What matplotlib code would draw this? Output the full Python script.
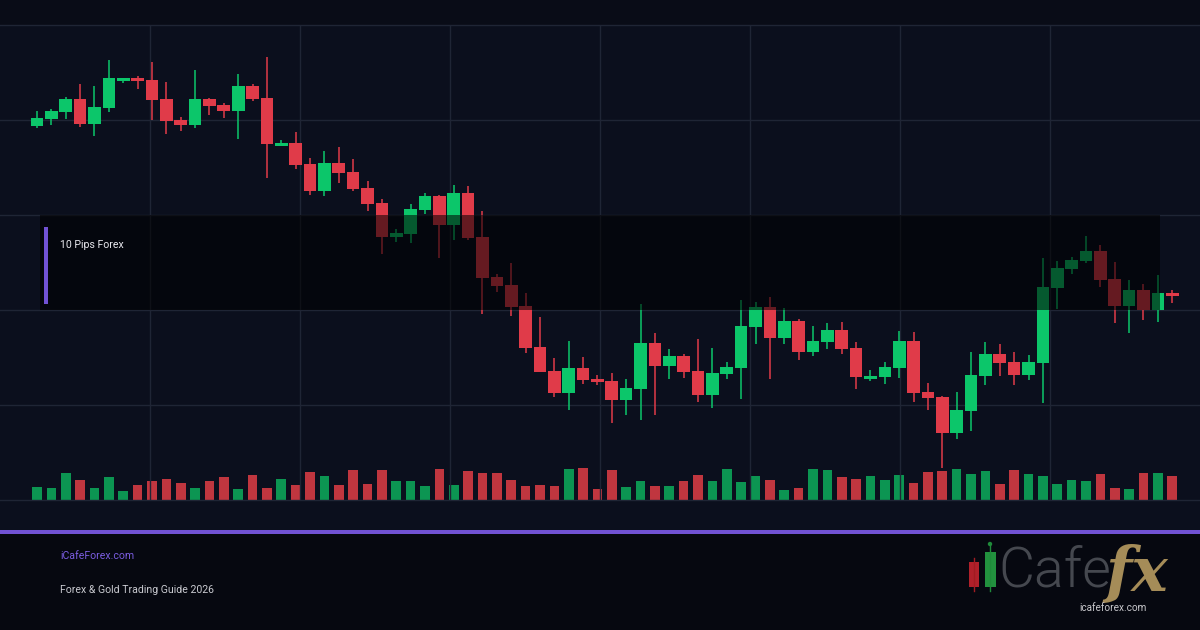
import matplotlib
matplotlib.use("Agg")
import matplotlib.pyplot as plt
from matplotlib.patches import Rectangle, Circle
import numpy as np

# ---------------- data (price units, arbitrary scale) ----------------
opens = [374.3, 381, 388.3, 401, 376.3, 392.3, 419.3, 422, 420, 401,
         380, 375.3, 401, 395, 389.3, 414, 402, 354.3, 357.3, 336.3,
         309.3, 337.3, 328.3, 312.3, 297.3, 263.3, 266.3, 290.3, 304.3, 275.3,
         307.3, 263.3, 223.3, 215, 194, 153.3, 129, 107.3, 132, 121,
         119, 100, 111, 157.3, 134, 144, 129, 105.3, 126, 132,
         173.3, 193, 162.3, 179, 148.3, 158.3, 170, 152, 121, 123,
         132, 159, 108, 103.3, 67.3, 89.3, 124.3, 146, 138, 125.3,
         137.3, 212.3, 231.3, 239.3, 249, 221, 194.3, 210, 190.3, 207]
highs = [389, 391, 403.3, 416.3, 414, 440, 422.5, 424, 438, 418,
         382.7, 429.7, 402.3, 397.3, 426, 416, 443.3, 360, 368.3, 341.7,
         348.7, 353, 340.7, 319, 301, 271.3, 296, 307.3, 305.3, 315,
         314, 289, 226.3, 237, 207, 183.3, 142, 159, 143.3, 125,
         127.3, 121, 196, 167.3, 151.3, 146.3, 161, 152, 138, 200,
         198, 203, 192, 181, 174, 177, 178, 158, 130, 138,
         169, 168, 117, 104.5, 108, 148, 158, 156, 148, 145,
         242, 239, 243, 264, 255, 238, 220, 216, 225, 210]
lows = [372.3, 375.3, 381, 373.3, 364.3, 388.3, 416.7, 411.3, 380, 366.3,
        369.3, 372.3, 385.3, 382.3, 361.3, 399.3, 321.7, 354, 331.5, 305.3,
        304.3, 317.3, 309.3, 289.3, 245.7, 258.3, 256.7, 286.3, 241.7, 260.3,
        260.5, 185.7, 208.3, 184.3, 146.7, 127.7, 103.3, 90, 116, 115.3,
        77, 85, 80, 85, 121, 122, 98.3, 92.3, 121.3, 101.3,
        156, 121.3, 156.3, 140.3, 144.3, 151.3, 146.3, 111.3, 119.3, 116.3,
        122.3, 98, 90.3, 32.3, 61.3, 69.3, 115.3, 124.3, 115.3, 120.3,
        97.3, 191.3, 226.3, 237.3, 213.3, 177.3, 167.3, 180.3, 178.3, 197.3]
closes = [382, 389, 401, 376.3, 393, 422, 422, 419.3, 400.3, 379.3,
          375.3, 401, 394.3, 389.3, 414, 401.3, 356.3, 357.3, 335.3, 309.3,
          337.3, 327.3, 311.3, 296.3, 263.3, 266.7, 291.3, 304.3, 275.3, 307.3,
          262.3, 222.3, 214.3, 193.3, 152.3, 128.3, 107.3, 132, 120, 118,
          100, 112, 157.3, 134, 144, 128, 105, 127, 133, 174,
          193, 162.3, 179, 148.3, 159, 170, 151, 123, 124, 133,
          159, 107, 102.3, 67.3, 90, 125, 146, 137.3, 125.3, 138,
          213, 232, 240, 249, 220.3, 194.3, 210, 190.3, 207, 204.3]
volumes = [13, 12, 27, 20, 12, 23, 9, 15, 19, 21,
           17, 12, 19, 23, 11, 25, 12, 21, 15, 28,
           24, 15, 30, 16, 30, 19, 19, 14, 31, 15,
           29, 27, 27, 20, 14, 15, 14, 31, 32, 11,
           30, 13, 19, 14, 14, 19, 25, 19, 31, 18,
           24, 20, 10, 12, 31, 30, 23, 21, 24, 20,
           25, 17, 28, 29, 31, 26, 29, 16, 30, 26,
           24, 16, 20, 19, 26, 12, 11, 27, 27, 24]
price_grid = [0, 95, 190, 285, 380, 475]

title_text = "10 Pips Forex"
footer_site = "iCafeForex.com"
footer_title = "Forex & Gold Trading Guide 2026"
logo_url = "icafeforex.com"

# ---------------- style ----------------
BG = "#0b0f1d"
TOPBG = "#090c17"
FOOT = "#060810"
GRID = "#1f2535"
GREEN = "#0cc66a"
RED = "#e03b49"
VGREEN = "#0c9552"
VRED = "#c0363f"
PURPLE = "#7152d4"
FONT = "Roboto"

n = len(opens)
x = np.arange(n)
up = np.array(closes) >= np.array(opens)

fig = plt.figure(figsize=(12, 6.3), dpi=100, facecolor=BG)

# background / footer layer (pixel coords)
bg = fig.add_axes([0, 0, 1, 1], zorder=0)
bg.set_xlim(0, 1200); bg.set_ylim(630, 0); bg.axis("off")
bg.add_patch(Rectangle((0, 0), 1200, 25, fc=TOPBG, ec="none"))
bg.add_patch(Rectangle((0, 532), 1200, 98, fc=FOOT, ec="none"))

# axis geometry
x0 = -37 / 14.37
x1 = x0 + 1200 / 14.37
pos = [0, 130 / 630, 1, 475 / 630]

# volume axes
axv = fig.add_axes(pos, zorder=1)
axv.patch.set_alpha(0)
axv.set_xlim(x0, x1); axv.set_ylim(0, 475); axv.axis("off")
axv.bar(x, volumes, width=0.67, bottom=0,
        color=[VGREEN if u else VRED for u in up], linewidth=0)

# price axes
ax = fig.add_axes(pos, zorder=2)
ax.patch.set_alpha(0)
ax.set_xlim(x0, x1); ax.set_ylim(0, 475); ax.axis("off")
for p in price_grid:
    ax.axhline(p, color=GRID, lw=1.0, zorder=0, clip_on=False)
for px in range(150, 1200, 150):
    ax.axvline(x0 + px / 14.37, color=GRID, lw=1.0, zorder=0)

cols = [GREEN if u else RED for u in up]
ax.vlines(x, lows, highs, colors=cols, lw=1.1, zorder=2)
o = np.array(opens); c = np.array(closes)
bottoms = np.minimum(o, c)
heights = np.maximum(np.abs(c - o), 2.5)
ax.bar(x, heights, bottom=bottoms, width=0.88, color=cols, linewidth=0, zorder=3)

# top overlay layer
top = fig.add_axes([0, 0, 1, 1], zorder=3)
top.patch.set_alpha(0)
top.set_xlim(0, 1200); top.set_ylim(630, 0); top.axis("off")
top.add_patch(Rectangle((40, 215), 1120, 95, fc="#000000", alpha=0.55, ec="none"))
top.add_patch(Rectangle((44, 227), 4, 77, fc=PURPLE, ec="none"))
top.text(60, 245, title_text, color="#e8e8ee", fontsize=7.6, family=FONT,
         va="center", ha="left")

# purple separator
top.add_patch(Rectangle((0, 530), 1200, 4, fc=PURPLE, ec="none"))

# footer texts
top.text(60, 556, footer_site, color="#7a5ce0", fontsize=7.6, family=FONT,
         va="center", ha="left")
top.text(60, 590, footer_title, color="#c9cad0", fontsize=7.6, family=FONT,
         va="center", ha="left")

# logo
top.plot([974, 974], [558, 591], color="#a01c22", lw=1.0)
top.add_patch(Rectangle((969, 562), 10, 25, fc="#b0202a", ec="none"))
top.plot([990, 990], [545, 591], color="#1f8a3a", lw=1.0)
top.add_patch(Circle((990, 544), 2.2, fc="#1f8a3a", ec="none"))
top.add_patch(Rectangle((984.5, 552), 11, 35, fc="#22913e", ec="none"))
top.text(998, 571, "Cafe", color="#45484f", fontsize=40, family=FONT,
         fontweight=300, va="center", ha="left")
top.text(1106, 574, "fx", color="#a58c58", fontsize=44, family="DejaVu Serif",
         fontstyle="italic", fontweight="bold", va="center", ha="left")
top.text(1113, 608, logo_url, color="#c8c8cc", fontsize=7.2, family=FONT,
         va="center", ha="center")

fig.savefig("out.png", dpi=100, facecolor=BG)
